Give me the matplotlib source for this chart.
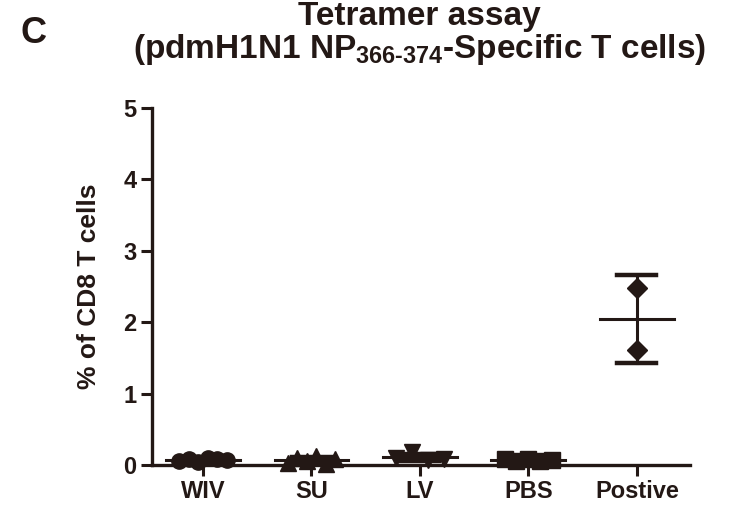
import matplotlib
matplotlib.use("Agg")
import matplotlib.pyplot as plt
import numpy as np

plt.rcParams['font.family'] = ['Liberation Sans', 'DejaVu Sans']
plt.rcParams['mathtext.fontset'] = 'custom'
plt.rcParams['mathtext.rm'] = 'Liberation Sans:bold'
plt.rcParams['mathtext.bf'] = 'Liberation Sans:bold'

groups = ["WIV", "SU", "LV", "PBS", "Postive"]
markers = ["o", "^", "v", "s", "D"]
values = [
    [0.06, 0.09, 0.04, 0.10, 0.08, 0.07],
    [0.03, 0.10, 0.06, 0.12, 0.02, 0.09],
    [0.10, 0.18, 0.07, 0.09],
    [0.08, 0.05, 0.09, 0.06, 0.07],
    [2.48, 1.61],
]
yticks = [0, 1, 2, 3, 4, 5]
ink = "#231815"

fig = plt.figure(figsize=(7.36, 5.09), dpi=100)
ax = fig.add_axes([0.2065, 0.0864, 0.731, 0.7016])

for i, (vals, m) in enumerate(zip(values, markers)):
    vals = np.array(vals)
    n = len(vals)
    if n > 2:
        offs = np.linspace(-0.22, 0.22, n)
    else:
        offs = np.zeros(n)
    ax.plot(i + offs, vals, linestyle="none", marker=m, color=ink,
            markersize=11 if m != "D" else 10, clip_on=False, zorder=3)
    mean = vals.mean()
    sd = vals.std(ddof=1)
    ax.plot([i - 0.34, i + 0.34], [mean, mean], color=ink, lw=2.2, clip_on=False, zorder=4)
    ax.plot([i, i], [mean - sd, mean + sd], color=ink, lw=2.2, clip_on=False, zorder=4)
    for y in (mean - sd, mean + sd):
        ax.plot([i - 0.18, i + 0.18], [y, y], color=ink, lw=3.2, clip_on=False, zorder=4)

ax.set_xlim(-0.47, 4.49)
ax.set_ylim(0, 5)
ax.set_xticks(range(len(groups)))
ax.set_xticklabels(groups, fontsize=17, fontweight="bold")
ax.set_yticks(yticks)
ax.set_yticklabels([str(t) for t in yticks], fontsize=17, fontweight="bold")
ax.tick_params(length=8, width=2.2, color=ink, labelcolor=ink, pad=3)
for s in ("top", "right"):
    ax.spines[s].set_visible(False)
for s in ("left", "bottom"):
    ax.spines[s].set_linewidth(2.4)
    ax.spines[s].set_color(ink)
ax.set_ylabel("% of CD8 T cells", fontsize=19, fontweight="bold", color=ink, labelpad=16)

fig.text(0.57, 0.968, "Tetramer assay", ha="center", va="center", fontsize=24,
         fontweight="bold", color=ink)
fig.text(0.57, 0.902, r"(pdmH1N1 NP$_{\text{366-374}}$-Specific T cells)", ha="center",
         va="center", fontsize=24, fontweight="bold", color=ink)
fig.text(0.045, 0.935, "C", ha="center", va="center", fontsize=26, fontweight="bold", color=ink)

fig.savefig("out.png", dpi=100)
